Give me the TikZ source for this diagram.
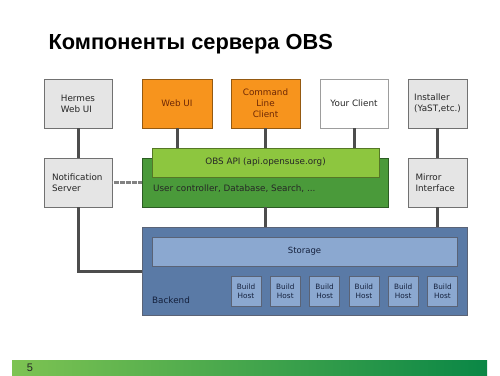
\documentclass[tikz,border=0pt]{standalone}
\usepackage{fontspec}
\setmainfont{DejaVu Sans}
\newfontfamily\titlefont{Liberation Sans}
\usetikzlibrary{positioning,calc}
\definecolor{boxgray}{RGB}{229,229,229}
\definecolor{linegray}{RGB}{77,77,77}
\definecolor{obsorange}{RGB}{247,148,29}
\definecolor{orangetext}{RGB}{110,40,5}
\definecolor{apilight}{RGB}{141,198,63}
\definecolor{apidark}{RGB}{74,154,58}
\definecolor{backblue}{RGB}{90,122,166}
\definecolor{storeblue}{RGB}{139,168,208}
\definecolor{navytext}{RGB}{20,32,60}
\definecolor{barlight}{RGB}{125,195,82}
\definecolor{bardark}{RGB}{10,135,70}

\tikzset{
  comp/.style={draw=linegray!80,fill=boxgray,line width=0.8pt,inner sep=0pt,
    minimum height=49,font=\fontsize{8.8}{11}\selectfont,text=black!85},
  client/.style={comp,fill=obsorange,draw=obsorange!60!black,text=orangetext,align=center},
  wire/.style={linegray,line width=3pt},
  bluebox/.style={draw=navytext!70,line width=0.8pt,inner sep=0pt,text=navytext,
    font=\fontsize{8.5}{10}\selectfont}
}

\begin{document}
\begin{tikzpicture}[x=1pt,y=-1pt]
  \useasboundingbox (0,0) rectangle (500,375);
  \node[anchor=base west,font=\titlefont\bfseries\fontsize{21.8}{26}\selectfont] (title) at (45,49) {Компоненты сервера OBS};

  % clients
  \node[comp,minimum width=68,align=left] (hermes) at (78,103.5) {Hermes\\Web UI};
  \node[client,minimum width=70] (webui) at (177,103.5) {Web UI};
  \node[client,minimum width=69] (cli) at (265.5,103.5) {Command\\Line\\Client};
  \node[comp,fill=white,draw=linegray!55,minimum width=68] (yours) at (354,103.5) {Your Client};
  \node[comp,minimum width=59,align=left] (installer) at (437.5,103.5) {Installer\\(YaST,etc.)};

  % middle row
  \node[comp,minimum width=68,text width=52,align=left] (notif) at (78,182.5) {Notification\\Server};
  \node[comp,minimum width=59,text width=44,align=left] (mirror) at (437.5,182.5) {Mirror\\Interface};
  \node[comp,fill=apidark,draw=apidark!60!black,minimum width=246] (apid) at (265,182.5) {};
  \node[comp,fill=apilight,draw=apilight!60!black,minimum width=227,minimum height=29] (apil) at (265.5,162.5) {OBS API (api.opensuse.org)};
  \node[anchor=west,font=\fontsize{8.8}{11}\selectfont,text=black!85,inner sep=0pt] (apitext) at (153,189) {User controller, Database, Search, ...};

  % backend
  \node[bluebox,fill=backblue,minimum width=325,minimum height=88] (backend) at (304.5,271) {};
  \node[bluebox,fill=storeblue,minimum width=305,minimum height=29] (storage) at (304.5,251.5) {Storage};
  \node[anchor=west,inner sep=0pt,text=navytext,font=\fontsize{8.8}{10}\selectfont] (backlabel) at (152,300) {Backend};
  \foreach \i in {0,...,5}
    \node[bluebox,fill=storeblue,minimum width=30,minimum height=30,align=center,
      font=\fontsize{7.3}{9}\selectfont] (host\i) at ({246+39.3*\i},291) {Build\\Host};

  % wires
  \draw[wire] (hermes) -- (notif);
  \draw[wire] (webui) -- (webui |- apil.north);
  \draw[wire] (cli) -- (cli |- apil.north);
  \draw[wire] (yours) -- (yours |- apil.north);
  \draw[wire] (installer) -- (mirror);
  \draw[wire] (notif.south) |- (backend.west);
  \draw[wire] (apid.south) -- (apid.south |- backend.north);
  \draw[wire] (mirror.south) -- (mirror.south |- backend.north);
  \draw[linegray!70,line width=2.6pt,dash pattern=on 0.5pt off 0.7pt] (notif.east) -- (apid.west);

  % footer
  \shade[left color=barlight,right color=bardark] (12,360) rectangle (487,375);
  \node[font=\titlefont\fontsize{11}{12}\selectfont,text=black!85] (page) at (30,367.5) {5};
\end{tikzpicture}
\end{document}
